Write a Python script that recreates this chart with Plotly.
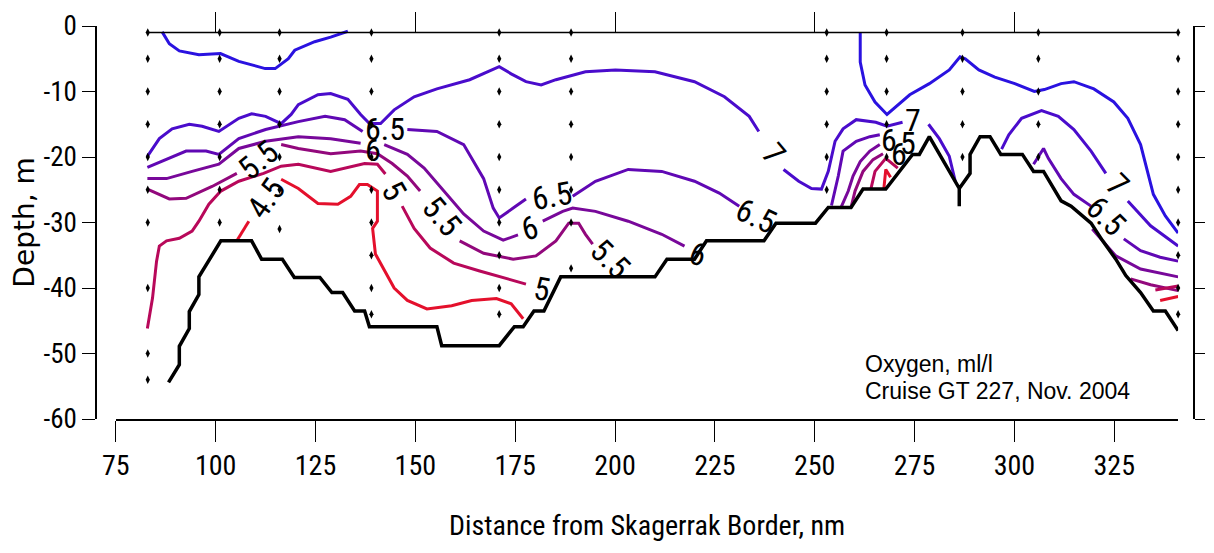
import plotly.graph_objects as go

NARROW = ("Liberation Sans Narrow, Arial Narrow, Roboto Condensed, Noto Sans Condensed, "
          "Open Sans Condensed, DejaVu Sans Condensed, Liberation Sans, Arial, sans-serif")
SANS = "Liberation Sans, Arial, Helvetica, sans-serif"
WIDE = "DejaVu Sans, Verdana, sans-serif"

# ---------------- data (distance nm, depth m) ----------------
x_ticks = [75, 100, 125, 150, 175, 200, 225, 250, 275, 300, 325]
y_ticks = [0, -10, -20, -30, -40, -50, -60]
y_tick_text = ["0", "-10", "-20", "-30", "-40", "-50", "-60"]
top_ticks = [100, 150, 200, 250, 300]
surface_depth = -1

station_x = [83, 101, 116, 139, 171, 189, 253, 268, 287, 306, 341]
station_depths = [
    [-1, -5, -10, -15, -20, -25, -30, -40, -50, -54],
    [-1, -5, -10, -15, -20, -25, -30],
    [-1, -5, -10, -15, -20, -25, -31],
    [-1, -5, -10, -15, -20, -25, -30, -35, -40, -44],
    [-1, -5, -10, -15, -20, -25, -30, -35, -40, -44],
    [-1, -5, -10, -15, -20, -25, -30, -37],
    [-1, -5, -10, -15, -20, -25],
    [-1, -5, -10, -15, -20],
    [-1, -5, -10, -15, -20],
    [-1, -5, -10, -15, -20],
    [-1, -5, -10, -15, -20, -25, -30, -35, -40, -44],
]

bottom_x = [88.2, 90.9, 90.9, 93.4, 93.4, 95.8, 95.8, 101.3, 109.0, 111.5, 116.7, 119.7, 126.1,
            129.1, 131.8, 134.8, 137.3, 138.5, 155.4, 156.6, 171.0, 174.8, 177.0, 179.7, 182.2,
            186.4, 210.0, 213.0, 219.9, 222.9, 237.3, 240.3, 250.2, 253.4, 259.1, 262.1, 267.8,
            274.5, 276.2, 278.7, 286.2, 286.2, 286.2, 288.9, 288.9, 291.4, 293.9, 296.6, 302.0,
            304.8, 307.3, 311.7, 314.2, 319.2, 322.1, 325.4, 327.9, 331.6, 334.8, 337.8, 341.0]
bottom_d = [-54.4, -51.7, -48.9, -46.2, -43.6, -41.0, -38.3, -32.8, -32.8, -35.6, -35.6, -38.4, -38.4,
            -40.7, -40.7, -43.5, -43.5, -45.9, -45.9, -48.8, -48.8, -45.9, -45.9, -43.5, -43.5,
            -38.3, -38.3, -35.6, -35.6, -32.8, -32.8, -30.1, -30.1, -27.7, -27.7, -24.9, -24.9,
            -19.6, -19.6, -16.9, -24.8, -27.5, -24.8, -22.5, -19.6, -16.9, -16.9, -19.6, -19.6,
            -22.2, -22.2, -26.7, -27.5, -30.1, -32.8, -35.6, -38.1, -40.7, -43.5, -43.5, -46.5]

levels = [7.5, 7.0, 6.5, 6.0, 5.5, 5.0, 4.5]
level_colors = ["#2a12e0", "#4a0ccc", "#6008b4", "#78089a", "#92087c", "#b8085a", "#e4102c"]

iso_x = {
    7.5: [86.6, 88.4, 90.9, 95.8, 101.2, 105.8, 112.4, 114.9, 118.2, 119.8, 124.8, 128.8, 133.1, None,
          261.4, 261.4, 262.6, 265.1, 268.1, 270.3, 273.8, 278.7, 283.7, 286.4, 287.7, 291.1, 295.1,
          300.1, 305.0, 307.5, 311.7, 314.9, 319.9, 324.9, 328.4, 331.6, 334.8, 337.8, 341.0],
    7.0: [82.9, 85.9, 89.1, 93.4, 96.6, 100.8, 105.8, 109.0, 112.5, 116.4, 118.9, 120.7, 125.6, 128.8,
          133.1, 136.3, 138.5, 141.3, 144.7, 149.7, 155.4, 163.6, 171.0, 174.0, 177.7, 181.5, 185.2,
          192.6, 200.1, 210.0, 219.9, 227.4, 233.6, 236.0, None,
          242.2, 246.0, 249.2, 251.7, 253.4, 255.1, 257.1, 260.4, 265.3, 268.1, 272.0, None,
          278.5, 281.2, 283.7, 285.2, None,
          296.8, 298.6, 301.8, 306.8, 311.0, 314.9, 319.2, 322.9, None,
          328.4, 334.1, 341.0],
    6.5: [82.9, 87.7, 92.6, 97.6, 100.8, 105.8, 112.5, 120.7, 127.4, 132.3, 136.8, None,
          148.0, 155.4, 162.1, 167.1, 169.5, 171.0, 174.5, 177.7, None,
          189.4, 195.1, 203.3, 211.7, 219.9, 226.1, 231.1, None,
          254.2, 255.9, 257.1, 260.4, 263.8, 266.3, None,
          304.8, 307.3, 308.5, 311.7, 314.9, 319.2, None,
          327.4, 331.6, 336.5, 341.0],
    6.0: [82.9, 87.7, 94.1, 100.8, 105.8, 112.5, 120.7, 128.8, 136.3, None,
          142.2, 148.0, 152.2, 157.1, 162.1, 167.1, 172.0, 175.7, None,
          181.9, 186.9, 189.4, 195.1, 203.3, 211.7, 217.4, None,
          256.6, 258.4, 259.6, 261.4, 263.8, 266.3, None,
          319.5, 325.4, 331.6, 341.0],
    5.5: [82.9, 88.4, 92.6, 99.1, 105.3, None,
          116.4, 120.7, 128.8, 136.3, 140.5, 144.2, 148.0, 151.2, None,
          161.1, 167.1, 174.5, 180.2, 185.2, 188.4, 190.9, 192.6, 194.4, None,
          259.1, 260.1, 262.1, 264.6, 267.1, None,
          329.1, 334.1, 341.0],
    5.0: [82.9, 84.2, 85.2, 85.9, 87.7, 90.9, 94.1, 95.8, 98.3, 101.3, 105.8, 112.0, 116.4, 120.7,
          128.8, 137.3, 140.5, 142.5, None,
          146.7, 149.7, 153.7, 159.6, 166.1, 172.0, 177.7, None,
          264.1, 265.1, 267.8, 270.8, None,
          335.3, 341.0],
    4.5: [105.3, 108.3, None,
          116.4, 120.7, 125.6, 130.6, 133.8, 136.0, 138.0, 140.5, 140.5, 139.3, 140.0, 144.7, 148.0,
          152.9, 159.1, 164.1, 170.3, 174.0, 177.0, None,
          267.3, 267.8, 269.0, None,
          336.5, 341.0],
}
iso_d = {
    7.5: [-0.9, -2.7, -3.8, -4.4, -4.2, -5.4, -6.5, -6.5, -5.0, -3.7, -2.4, -1.7, -0.8, None,
          -0.9, -5.5, -9.0, -11.6, -13.5, -12.3, -10.5, -8.8, -6.7, -4.7, -5.0, -6.7, -7.8,
          -8.8, -10.0, -9.7, -8.8, -8.5, -9.6, -11.6, -14.1, -18.1, -25.7, -29.0, -31.6],
    7.0: [-19.9, -17.2, -15.7, -15.0, -15.3, -16.1, -14.1, -13.4, -13.8, -14.9, -13.5, -12.0, -10.5, -10.3,
          -11.2, -13.5, -14.9, -14.9, -12.8, -10.8, -9.6, -8.2, -6.2, -7.3, -8.5, -9.0, -8.2,
          -7.0, -6.7, -7.0, -8.5, -10.8, -13.8, -16.1, None,
          -21.9, -23.7, -24.8, -24.9, -22.2, -17.6, -15.7, -14.3, -14.7, -15.3, -14.7, None,
          -15.0, -17.2, -19.9, -23.7, None,
          -18.8, -16.6, -14.1, -12.9, -13.8, -15.8, -19.1, -22.5, None,
          -26.7, -30.5, -33.6],
    6.5: [-21.6, -20.4, -19.1, -19.1, -19.6, -17.2, -15.8, -14.6, -13.8, -14.3, -16.1, None,
          -15.8, -16.1, -18.1, -23.3, -27.8, -29.3, -27.8, -26.4, None,
          -26.0, -23.7, -21.9, -22.2, -23.7, -25.5, -27.5, None,
          -27.4, -22.9, -19.1, -17.6, -16.9, -16.6, None,
          -21.1, -18.7, -20.2, -23.3, -25.7, -27.5, None,
          -32.5, -34.3, -35.3, -35.9],
    6.0: [-23.3, -23.3, -22.2, -21.1, -18.7, -17.6, -16.9, -17.2, -17.9, None,
          -18.1, -19.6, -21.7, -25.2, -28.7, -31.3, -32.7, -31.9, None,
          -29.8, -28.3, -27.8, -28.3, -29.8, -31.8, -33.6, None,
          -27.7, -25.2, -22.9, -20.7, -19.1, -18.1, None,
          -31.0, -35.1, -37.1, -38.3],
    5.5: [-24.9, -26.4, -26.3, -24.5, -22.5, None,
          -18.1, -18.7, -19.5, -19.1, -19.5, -21.0, -22.9, -25.2, None,
          -32.8, -34.7, -35.6, -35.1, -32.8, -30.1, -30.1, -31.8, -33.3, None,
          -27.7, -25.2, -22.2, -20.4, -19.5, None,
          -38.6, -39.5, -40.4],
    5.0: [-46.2, -41.5, -35.9, -33.6, -32.8, -32.4, -31.3, -29.8, -27.2, -25.2, -23.7, -22.5, -21.4, -21.1,
          -22.2, -21.0, -21.1, -22.6, None,
          -27.5, -30.9, -33.9, -36.2, -37.4, -38.4, -39.4, None,
          -24.8, -22.2, -20.2, -21.7, None,
          -40.3, -39.7],
    4.5: [-32.8, -29.8, None,
          -23.4, -24.8, -27.1, -27.2, -26.0, -24.2, -24.2, -25.2, -29.8, -30.9, -34.8, -40.0, -41.9,
          -43.2, -42.7, -41.9, -41.6, -42.4, -44.7, None,
          -24.9, -21.9, -23.1, None,
          -41.9, -41.3],
}

label_text = ["5.5", "4.5", "6.5", "6", "5", "5.5", "6", "6.5", "5.5", "5", "6", "6.5", "7",
              "7", "6", "6", "5", "7", "6.5"]
label_x = [110.7, 112.7, 142.5, 139.3, 144.7, 156.6, 178.7, 184.2, 198.8, 181.7, 220.7, 235.3, 239.8,
           274.5, 268.6, 271.0, 273.4, 325.9, 322.9]
label_d = [-20.4, -26.3, -15.8, -18.9, -25.2, -29.0, -30.9, -26.0, -35.6, -40.1, -34.8, -29.0, -19.5,
           -14.3, -17.4, -19.6, -17.8, -24.2, -29.0]
label_angle = [-40, -55, 0, 0, 60, 50, -15, -10, 45, 10, 20, 25, 50, 0, 0, 0, 0, 45, 45]

# ---------------- figure ----------------
fig = go.Figure()

for lev, col in zip(levels, level_colors):
    fig.add_trace(go.Scatter(x=iso_x[lev], y=iso_d[lev], mode="lines",
                             line=dict(color=col, width=3), cliponaxis=False,
                             connectgaps=False, hoverinfo="skip", name=str(lev)))

fig.add_trace(go.Scatter(x=bottom_x, y=bottom_d, mode="lines",
                         line=dict(color="black", width=3.5), cliponaxis=False, name="bottom"))

sx, sd = [], []
for xs, ds in zip(station_x, station_depths):
    for d in ds:
        sx.append(xs)
        sd.append(d)
fig.add_trace(go.Scatter(x=sx, y=sd, mode="markers", xaxis="x2", yaxis="y2",
                         marker=dict(symbol="diamond-tall", size=6, color="black"),
                         cliponaxis=False, name="stations"))

for t, xx, dd, ang in zip(label_text, label_x, label_d, label_angle):
    fig.add_annotation(x=xx, y=dd, xref="x", yref="y", text=t, showarrow=False,
                       textangle=ang, font=dict(family=NARROW, size=32, color="black"))

# surface line of the section
fig.add_shape(type="line", xref="x", yref="y", x0=station_x[0], x1=station_x[-1],
              y0=surface_depth, y1=surface_depth, line=dict(color="black", width=1.5))

W, H = 1214, 553
L, R, T, B = 96, 10, 24, 134
pw = W - L - R
ph = H - T - B
x_lo, x_hi = 75, 341
px_per_unit = 4.03
dom0 = (116 - L) / pw
dom1 = dom0 + (x_hi - x_lo) * px_per_unit / pw
top_pos = 1 + surface_depth / 60.0

axis_common = dict(showgrid=False, zeroline=False, tickcolor="black", tickwidth=1.2,
                   linecolor="black", linewidth=1.5)

fig.update_layout(
    width=W, height=H, margin=dict(l=L, r=R, t=T, b=B),
    plot_bgcolor="white", paper_bgcolor="white", showlegend=False,
    xaxis=dict(domain=[dom0, dom1], range=[x_lo, x_hi], tickvals=x_ticks, ticks="outside",
               ticklen=21, showline=True, anchor="y",
               tickfont=dict(family=NARROW, size=28, color="black"), **axis_common),
    yaxis=dict(domain=[0, 1], range=[-60, 0], tickvals=y_ticks, ticktext=y_tick_text,
               ticks="outside", ticklen=13, showline=True, anchor="free", position=0,
               tickfont=dict(family=NARROW, size=27, color="black"), **axis_common),
    xaxis2=dict(overlaying="x", matches="x", anchor="free", position=top_pos, side="top",
                tickvals=top_ticks, ticks="outside", ticklen=21, showticklabels=False,
                showline=False, showgrid=False, zeroline=False, tickcolor="black", tickwidth=1.2),
    yaxis2=dict(overlaying="y", matches="y", anchor="free", position=1, side="right",
                tickvals=y_ticks, ticks="outside", ticklen=10, showticklabels=False,
                showline=True, **axis_common),
)

fig.add_annotation(xref="paper", yref="paper", x=(652 - L) / pw, y=(T + ph - 526) / ph,
                   text="Distance from Skagerrak Border, nm", showarrow=False,
                   font=dict(family=NARROW, size=28, color="black"), yanchor="middle")
fig.add_annotation(xref="paper", yref="paper", x=(24 - L) / pw, y=(T + ph - 222) / ph,
                   text="Depth, m", showarrow=False, textangle=-90,
                   font=dict(family=WIDE, size=28, color="black"), xanchor="center")
fig.add_annotation(xref="paper", yref="paper", x=(870 - L) / pw, y=(T + ph - 364) / ph,
                   text="Oxygen, ml/l", showarrow=False, xanchor="left", yanchor="middle",
                   font=dict(family=SANS, size=23, color="black"))
fig.add_annotation(xref="paper", yref="paper", x=(870 - L) / pw, y=(T + ph - 391) / ph,
                   text="Cruise GT 227, Nov. 2004", showarrow=False, xanchor="left", yanchor="middle",
                   font=dict(family=SANS, size=23, color="black"))

fig.write_html("out.html")
